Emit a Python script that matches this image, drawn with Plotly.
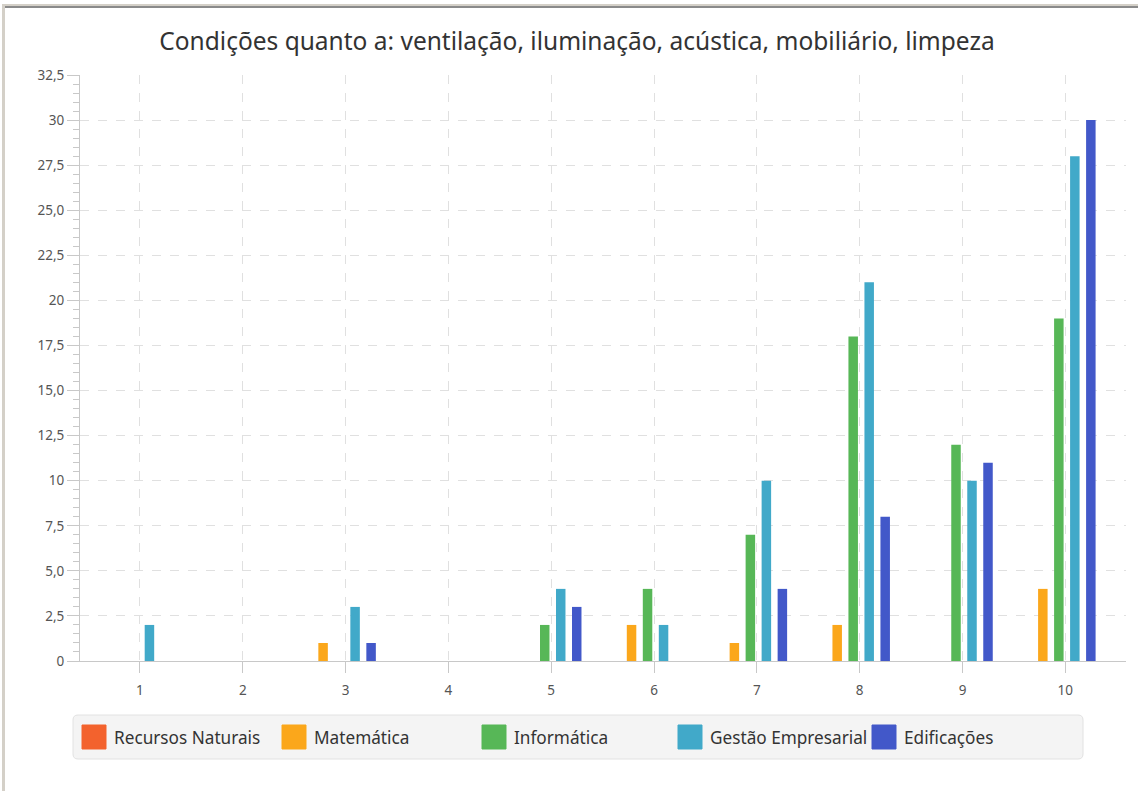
import plotly.graph_objects as go

# ---------------- data ----------------
categories = [1, 2, 3, 4, 5, 6, 7, 8, 9, 10]
series_names = ["Recursos Naturais", "Matemática", "Informática", "Gestão Empresarial", "Edificações"]
recursos_naturais = [0, 0, 0, 0, 0, 0, 0, 0, 0, 0]
matematica = [0, 0, 1, 0, 0, 2, 1, 2, 0, 4]
informatica = [0, 0, 0, 0, 2, 4, 7, 18, 12, 19]
gestao_empresarial = [2, 0, 3, 0, 4, 2, 10, 21, 10, 28]
edificacoes = [0, 0, 1, 0, 3, 0, 4, 8, 11, 30]
series_values = [recursos_naturais, matematica, informatica, gestao_empresarial, edificacoes]
y_tick_values = [0, 2.5, 5, 7.5, 10, 12.5, 15, 17.5, 20, 22.5, 25, 27.5, 30, 32.5]
y_tick_labels = ["0", "2,5", "5,0", "7,5", "10", "12,5", "15,0", "17,5", "20", "22,5", "25,0", "27,5", "30", "32,5"]
x_tick_labels = [str(c) for c in categories]
title_text = "Condições quanto a: ventilação, iluminação, acústica, mobiliário, limpeza"

# ---------------- styles / layout ----------------
colors = ["#f3622d", "#fba71b", "#57b757", "#41a9c9", "#4258c9"]
FONT = "Noto Sans, DejaVu Sans, sans-serif"
W, H = 1138, 791
L, R, T, B = 80, 1126, 75, 661
x_range = [0.417, 10.59]
px_per_cat = (R - L) / (x_range[1] - x_range[0])
bar_px = 9.5
slot_px = 16
center_shift_px = -6.5 - 2 * slot_px  # center of first series relative to tick

def px_x(px):
    return (px - L) / (R - L)

def px_y(py):
    return (B - py) / (B - T)

fig = go.Figure()
for i, (name, vals) in enumerate(zip(series_names, series_values)):
    center = center_shift_px + i * slot_px
    fig.add_trace(go.Bar(
        x=categories, y=vals, name=name,
        marker=dict(color=colors[i], line=dict(width=0)),
        width=bar_px / px_per_cat,
        offset=(center - bar_px / 2) / px_per_cat,
        showlegend=False,
    ))

axis_col = "#c8c8c8"
tick_font = dict(family=FONT, size=13.5, color="#555555")
grid_col = "#e0e0e0"

fig.update_layout(
    width=W, height=H,
    margin=dict(l=L, r=W - R, t=T, b=H - B, pad=0),
    paper_bgcolor="white", plot_bgcolor="white",
    barmode="overlay",
    showlegend=False,
    title=dict(text=title_text, x=577 / W, xref="container", xanchor="center",
               y=1 - 41 / H, yref="container", yanchor="middle",
               font=dict(family=FONT, size=24.5, color="#333333")),
    xaxis=dict(range=x_range, tickmode="array", tickvals=categories, ticktext=x_tick_labels,
               showgrid=True, gridcolor=grid_col, griddash="dash", gridwidth=1,
               showline=True, linecolor=axis_col, linewidth=1,
               ticks="outside", ticklen=11, tickcolor=axis_col, tickwidth=1,
               ticklabelstandoff=6,
               tickfont=tick_font, zeroline=False, fixedrange=True),
    yaxis=dict(range=[0, 32.5], tickmode="array", tickvals=y_tick_values, ticktext=y_tick_labels,
               showgrid=True, gridcolor=grid_col, griddash="dash", gridwidth=1,
               showline=True, linecolor=axis_col, linewidth=1,
               ticks="outside", ticklen=12, tickcolor=axis_col, tickwidth=1,
               tickfont=tick_font, zeroline=False, fixedrange=True,
               minor=dict(tickmode="linear", tick0=0, dtick=0.5, ticks="outside", ticklen=6,
                          tickcolor=axis_col, tickwidth=1, showgrid=False)),
)

shapes = []
annotations = []
# window frame
shapes.append(dict(type="rect", xref="paper", yref="paper", x0=px_x(2), x1=px_x(5), y0=px_y(H), y1=px_y(4),
                   fillcolor="#d4d0c8", line=dict(width=0), layer="above"))
shapes.append(dict(type="rect", xref="paper", yref="paper", x0=px_x(2), x1=px_x(W), y0=px_y(6), y1=px_y(4),
                   fillcolor="#d4d0c8", line=dict(width=0), layer="above"))
shapes.append(dict(type="rect", xref="paper", yref="paper", x0=px_x(5), x1=px_x(W), y0=px_y(8), y1=px_y(6),
                   fillcolor="#8a8a8a", line=dict(width=0), layer="above"))

# legend box (rounded)
lx0, lx1, ly0, ly1, rad = 73, 1083, 715, 759, 5
def P(x, y):
    return f"{px_x(x)},{px_y(y)}"
path = (f"M{P(lx0 + rad, ly0)} L{P(lx1 - rad, ly0)} Q{P(lx1, ly0)} {P(lx1, ly0 + rad)} "
        f"L{P(lx1, ly1 - rad)} Q{P(lx1, ly1)} {P(lx1 - rad, ly1)} L{P(lx0 + rad, ly1)} "
        f"Q{P(lx0, ly1)} {P(lx0, ly1 - rad)} L{P(lx0, ly0 + rad)} Q{P(lx0, ly0)} {P(lx0 + rad, ly0)} Z")
shapes.append(dict(type="path", xref="paper", yref="paper", path=path,
                   fillcolor="#f4f4f4", line=dict(color="#e2e2e2", width=1), layer="above"))

legend_item_x = [82, 282, 482, 678, 872]
sq = 24
lyc = 737
for i, name in enumerate(series_names):
    x0 = legend_item_x[i]
    shapes.append(dict(type="rect", xref="paper", yref="paper",
                       x0=px_x(x0), x1=px_x(x0 + sq), y0=px_y(lyc + sq / 2), y1=px_y(lyc - sq / 2),
                       fillcolor=colors[i], line=dict(color=colors[i], width=1), layer="above"))
    annotations.append(dict(xref="paper", yref="paper", x=px_x(x0 + sq + 6), y=px_y(lyc),
                            xanchor="left", yanchor="middle", text=name, showarrow=False,
                            font=dict(family=FONT, size=17.2, color="#333333")))

fig.update_layout(shapes=shapes, annotations=annotations)
fig.write_html("out.html", config={"displayModeBar": False},
               post_script="document.body.style.margin='0';document.body.style.padding='0';")
